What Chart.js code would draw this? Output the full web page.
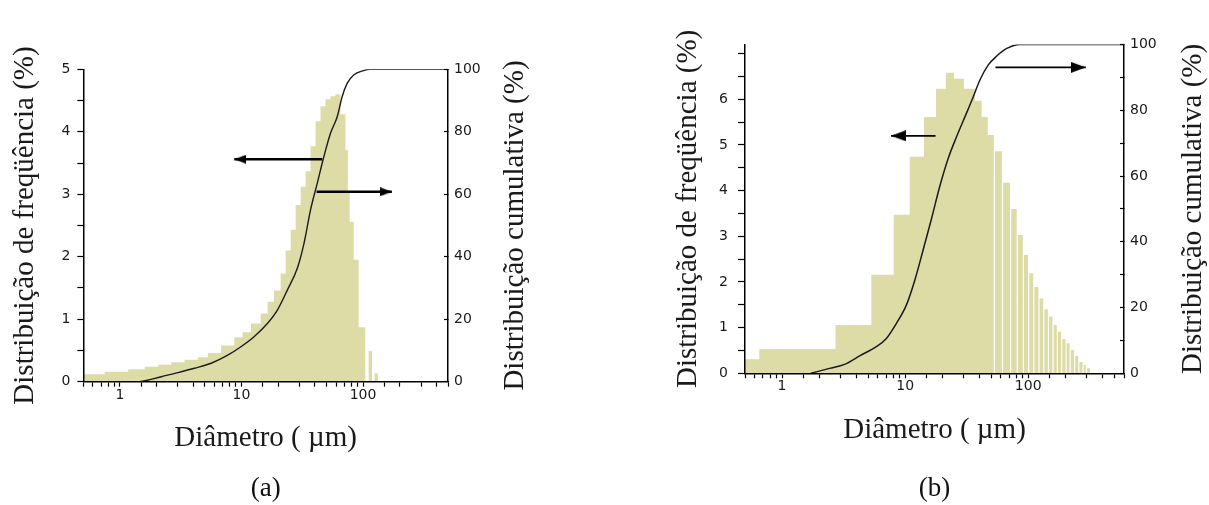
<!DOCTYPE html>
<html><head><meta charset="utf-8">
<script src="https://cdn.jsdelivr.net/npm/chart.js@4.4.1/dist/chart.umd.min.js"></script>
<style>
html,body{margin:0;padding:0;background:#fff;width:1209px;height:505px;overflow:hidden}
canvas{position:absolute;top:0}
#ca{left:0}
#cb{left:604px}
</style></head><body>
<canvas id="ca" width="604" height="505"></canvas>
<canvas id="cb" width="605" height="505"></canvas>
<script>
// ---------- Panel (a) data ----------
const binEdgesA = [0.5, 0.75, 1.17, 1.6, 2.06, 2.65, 3.4, 4.38, 5.29, 6.8, 8.73, 10.2, 11.97, 14.4, 16.4, 18.5, 21.0, 23.1, 25.4, 27.9, 30.7, 33.7, 37.0, 40.7, 44.7, 49.1, 54.0, 59.3, 65.2, 71.7, 75.0, 77.7, 83.8, 92.0, 104.4, 111.2, 118.5, 124.4, 132.7];
const freqA = [0.12, 0.16, 0.2, 0.24, 0.27, 0.31, 0.35, 0.39, 0.46, 0.58, 0.71, 0.79, 0.93, 1.09, 1.28, 1.46, 1.73, 2.1, 2.43, 2.83, 3.12, 3.37, 3.77, 4.17, 4.41, 4.52, 4.57, 4.6, 4.28, 3.71, 3.05, 2.56, 1.95, 0.87, 0, 0.49, 0, 0.13];
const cumDiamA = [0.5, 1.37, 2.19, 3.0, 4.11, 5.63, 7.71, 9.9, 12.7, 16.4, 19.8, 23.9, 28.8, 32.7, 37.0, 42.0, 47.6, 54.0, 61.3, 67.3, 74.0, 83.8, 101, 114, 500];
const cumPctA = [0, 0, 1.6, 2.9, 4.3, 5.9, 8.5, 11.2, 14.4, 18.7, 23, 29.4, 36.3, 44.3, 55, 63.5, 72, 79.5, 84.8, 91.2, 95.5, 98.2, 99.6, 100, 100];
const arrowsA = [{from: 46.2, to: 8.73, y: 3.56}, {from: 41.5, to: 172.7, y: 3.04}];

// ---------- Panel (b) data ----------
const binEdgesB = [0.5, 0.653, 2.72, 5.31, 8.07, 10.9, 14.2, 17.8, 21.4, 24.9, 30.0, 36.9, 41.9, 46.9, 53.1, 61.8, 71.9, 81.5, 91.4, 100.8, 111.1, 122.3, 134, 146, 159, 172.6, 187, 203, 219, 238, 258, 279, 297, 318];
const freqB = [0.31, 0.53, 1.06, 2.16, 3.47, 4.74, 5.61, 6.23, 6.58, 6.45, 6.23, 5.97, 5.61, 5.22, 4.86, 4.17, 3.6, 3.03, 2.59, 2.19, 1.89, 1.64, 1.40, 1.24, 1.06, 0.91, 0.75, 0.66, 0.51, 0.38, 0.25, 0.18, 0.11];
const separatedFromEdgeB = 14;
const cumDiamB = [1.72, 2.43, 3.22, 4.27, 5.84, 7.04, 8.5, 10.25, 12.0, 14.0, 16.4, 19.1, 22.4, 26.2, 30.6, 35.8, 40.5, 47.4, 55.5, 67.0, 85.9, 600];
const cumPctB = [0, 1.5, 2.7, 5.3, 8.1, 10.6, 15.2, 20.8, 28.4, 37.5, 47.1, 56.8, 65.4, 72.0, 78.0, 84.1, 89.2, 93.8, 96.5, 98.8, 100, 100];
const arrowsB = [{from: 17.66, to: 7.68, y: 5.2}, {from: 54.2, to: 294, y: 6.7}];

// ---------- Tick labels / texts ----------
const xTickLabels = [1, 10, 100];
const freqTickLabelsA = [0, 1, 2, 3, 4, 5];
const freqTickLabelsB = [0, 1, 2, 3, 4, 5, 6];
const cumTickLabels = [0, 20, 40, 60, 80, 100];
const xTitle = 'Diâmetro ( µm)';
const yTitle = 'Distribuição de freqüência (%)';
const y2Title = 'Distribuição cumulativa (%)';

// ---------- styles ----------
const FILL = 'rgb(222,220,166)';
const TXT = '#1a1a1a';
const tickFont = {family: 'DejaVu Sans', size: 14};
const titleFont = {family: 'Liberation Serif', size: 29};

function arrowHead(len, h) {
  const c = document.createElement('canvas');
  c.width = len * 2; c.height = h;
  const g = c.getContext('2d');
  g.fillStyle = '#000';
  g.beginPath(); g.moveTo(0, 0); g.lineTo(len, h / 2); g.lineTo(0, h); g.closePath(); g.fill();
  return c;
}
const labelMatch = (list, v) => list.find(t => Math.abs(t - v) < 1e-6 * Math.max(1, Math.abs(t)));

const rightTitlePlugin = {
  id: 'rightTitle',
  afterDraw(chart, args, opts) {
    const s = chart.scales.y2; const t = s.options.title;
    const ctx = chart.ctx;
    ctx.save();
    ctx.font = Chart.helpers.toFont(t.font).string;
    ctx.fillStyle = t.color;
    ctx.textAlign = 'center'; ctx.textBaseline = 'middle';
    ctx.translate(s.left + opts.offset, (s.top + s.bottom) / 2);
    ctx.rotate(-Math.PI / 2);
    ctx.fillText(t.text, 0, 0);
    ctx.restore();
  }
};

function axisLook(tl) {
  return {
    grid: {display: true, drawOnChartArea: false, drawTicks: true, tickLength: tl, tickColor: '#000', tickWidth: 1.2, z: 1},
    border: {display: true, color: '#000', width: 1.5, z: 1}
  };
}

function makePanel(canvasId, d, L) {
  const ds = [];
  const n = d.edges.length;
  ds.push({
    type: 'line', label: 'freq', yAxisID: 'y', order: 3,
    data: d.freq.map((h, i) => ({x: d.edges[i], y: h})).concat([{x: d.edges[n - 1], y: 0}]),
    stepped: 'before', fill: 'origin', backgroundColor: FILL,
    borderColor: 'rgba(0,0,0,0)', borderWidth: 0, pointRadius: 0, tension: 0
  });
  if (d.separateFrom != null) {
    const pts = [];
    for (let i = d.separateFrom; i < d.freq.length; i++) {
      const h = Math.max(d.freq[i - 1], d.freq[i]);
      pts.push({x: d.edges[i], y: 0}, {x: d.edges[i], y: h}, {x: d.edges[i], y: null});
    }
    ds.push({type: 'line', label: 'sep', yAxisID: 'y', order: 2, data: pts,
      borderColor: '#fff', borderWidth: 1.2, pointRadius: 0, fill: false, spanGaps: false, tension: 0});
  }
  ds.push({
    type: 'line', label: 'cum', yAxisID: 'y2', order: 1,
    data: d.cumDiam.map((x, i) => ({x: x, y: d.cumPct[i]})),
    borderColor: '#1a1a1a', borderWidth: L.cumWidth, pointRadius: 0, fill: false,
    tension: 0.4, cubicInterpolationMode: 'monotone'
  });
  d.arrows.forEach(a => ds.push({
    type: 'line', label: 'arrow', yAxisID: 'y', order: 0,
    data: [{x: a.from, y: a.y}, {x: a.to, y: a.y}],
    borderColor: '#000', borderWidth: L.arrowWidth, fill: false, tension: 0,
    pointRadius: [0, 6], pointHoverRadius: 0, pointBorderWidth: 0,
    pointStyle: L.head, pointRotation: a.to > a.from ? 0 : 180
  }));

  return new Chart(document.getElementById(canvasId), {
    type: 'line',
    data: {datasets: ds},
    plugins: [rightTitlePlugin],
    options: {
      responsive: false, animation: false, events: [], devicePixelRatio: 1,
      layout: {padding: L.pad},
      plugins: {
        legend: {display: false}, tooltip: {enabled: false},
        title: {display: true, position: 'bottom', fullSize: false, text: d.caption, color: '#111',
          font: {family: 'Liberation Serif', size: 27, weight: 'normal'}, padding: 0},
        rightTitle: {offset: L.rOff}
      },
      scales: {
        x: Object.assign(axisLook(5), {
          type: 'logarithmic', position: 'bottom', min: 0.5, max: d.xMax,
          afterFit: s => { s.height = L.xH; },
          ticks: {autoSkip: false, maxRotation: 0, minRotation: 0, padding: 0, color: TXT, font: tickFont, z: 1,
            callback: v => { const m = labelMatch(xTickLabels, v); return m === undefined ? '' : String(m); }},
          title: {display: true, text: xTitle, color: TXT, font: titleFont, padding: {top: 0, bottom: L.xTitlePad}}
        }),
        y: Object.assign(axisLook(L.yTick), {
          position: 'left', min: 0, max: d.yMax,
          afterFit: s => { s.width = 83.3; },
          ticks: {stepSize: 0.5, includeBounds: false, autoSkip: false, padding: L.yPad, color: TXT, font: tickFont, z: 1,
            callback: v => { const m = labelMatch(d.freqLabels, v); return m === undefined ? '' : String(m); }},
          title: {display: true, text: yTitle, color: TXT, font: titleFont, padding: {top: L.yTitlePad, bottom: 0}}
        }),
        y2: Object.assign(axisLook(-4), {
          position: 'right', min: 0, max: 100,
          afterFit: s => { s.width = L.y2W; },
          ticks: {stepSize: d.cumStep, autoSkip: false, padding: 10, color: TXT, font: tickFont, z: 1,
            callback: v => { const m = labelMatch(cumTickLabels, v); return m === undefined ? '' : String(m); }},
          title: {display: false, text: y2Title, color: TXT, font: titleFont}
        })
      }
    }
  });
}

makePanel('ca',
  {edges: binEdgesA, freq: freqA, cumDiam: cumDiamA, cumPct: cumPctA, arrows: arrowsA, separateFrom: null,
   xMax: 500, yMax: 5, freqLabels: freqTickLabelsA, cumStep: 20, caption: '(a)'},
  {pad: {left: 0, right: 56, top: 69.3, bottom: 0}, xH: 90.9, xTitlePad: 17.2, yTick: 6, yPad: 7, yTitlePad: 7.6,
   y2W: 100, rOff: 67, cumWidth: 1.4, arrowWidth: 2.6, head: arrowHead(12, 9)});

makePanel('cb',
  {edges: binEdgesB, freq: freqB, cumDiam: cumDiamB, cumPct: cumPctB, arrows: arrowsB, separateFrom: separatedFromEdgeB,
   xMax: 600, yMax: 7.2, freqLabels: freqTickLabelsB, cumStep: 10, caption: '(b)'},
  {pad: {left: 57.7, right: 0, top: 44.5, bottom: 0}, xH: 99.3, xTitlePad: 25.2, yTick: 7, yPad: 10, yTitlePad: 9.6,
   y2W: 85, rOff: 69, cumWidth: 1.5, arrowWidth: 1.8, head: arrowHead(15, 11)});
</script>
</body></html>
